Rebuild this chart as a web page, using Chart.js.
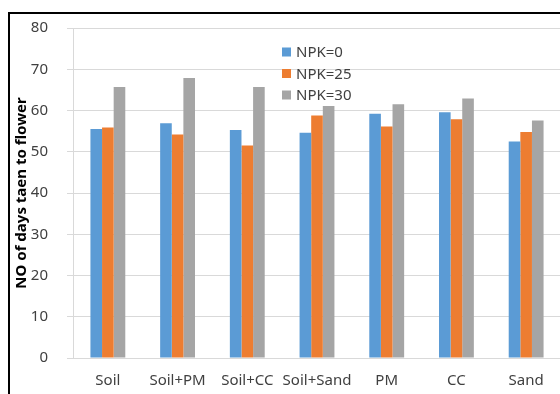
<!DOCTYPE html>
<html>
<head>
<meta charset="utf-8">
<script src="https://cdn.jsdelivr.net/npm/chart.js@4"></script>
<style>
  html, body { margin: 0; padding: 0; background: #fff; overflow: hidden; width: 560px; height: 394px; }
  #frame { position: absolute; left: 8px; top: 12px; width: 600px; height: 500px; border: 2px solid #000; }
  #wrap { position: absolute; left: 0; top: 0; width: 580px; height: 400px; }
</style>
</head>
<body>
<div id="frame"></div>
<div id="wrap"><canvas id="daysChart" width="580" height="400"></canvas></div>
<script>
/* chart data */
const mediums = ["Soil", "Soil+PM", "Soil+CC", "Soil+Sand", "PM", "CC", "Sand"];
const npk0 = [55.5, 56.9, 55.3, 54.6, 59.2, 59.6, 52.5];
const npk25 = [55.9, 54.2, 51.5, 58.8, 56.1, 57.9, 54.8];
const npk30 = [65.7, 67.9, 65.7, 61.1, 61.5, 62.9, 57.6];
const yTicks = [0, 10, 20, 30, 40, 50, 60, 70, 80];

const seriesNames = ["NPK=0", "NPK=25", "NPK=30"];
const seriesColors = ["#5B9BD5", "#ED7D31", "#A5A5A5"];

const fontFamily = "'Noto Sans', 'Open Sans', sans-serif";

/* legend drawn inside the plot */
const innerLegend = {
  id: "innerLegend",
  afterDraw(chart) {
    const ctx = chart.ctx;
    ctx.save();
    ctx.font = "15px " + fontFamily;
    ctx.textBaseline = "middle";
    chart.data.datasets.forEach((ds, i) => {
      const y = 52 + i * 21.5;
      ctx.fillStyle = ds.backgroundColor;
      ctx.fillRect(282, y - 4.5, 9, 9);
      ctx.fillStyle = "#404040";
      ctx.fillText(ds.label, 296, y + 1);
    });
    ctx.restore();
  }
};

const daysChart = new Chart(document.querySelector("#daysChart"), {
  type: "bar",
  data: {
    labels: mediums,
    datasets: [npk0, npk25, npk30].map((values, i) => ({
      label: seriesNames[i],
      data: values,
      backgroundColor: seriesColors[i],
      borderWidth: 0,
      categoryPercentage: 0.5,
      barPercentage: 1.0
    }))
  },
  options: {
    responsive: false,
    animation: false,
    layout: {
      padding: { left: 0, top: 28, right: 19, bottom: 12 }
    },
    plugins: {
      legend: { display: false },
      tooltip: { enabled: false }
    },
    scales: {
      x: {
        grid: { display: false, drawTicks: false },
        border: { display: true, color: "#D9D9D9", width: 1 },
        ticks: {
          color: "#404040",
          padding: 14,
          maxRotation: 0,
          autoSkip: false,
          font: { family: fontFamily, size: 15 }
        },
        afterFit(scale) { scale.height = 30; }
      },
      y: {
        min: 0,
        max: 80,
        afterBuildTicks(scale) {
          scale.ticks = yTicks.map(v => ({ value: v }));
        },
        grid: { color: "#D9D9D9", tickLength: 6, lineWidth: 1 },
        border: { display: true, color: "#D9D9D9", width: 1 },
        ticks: {
          color: "#404040",
          padding: 19,
          font: { family: fontFamily, size: 15 }
        },
        title: {
          display: true,
          text: "NO of days taen to flower",
          color: "#000",
          padding: { top: 13, bottom: 0 },
          font: { family: fontFamily, size: 15, weight: "bold" }
        },
        afterFit(scale) { scale.width = 73; }
      }
    }
  },
  plugins: [innerLegend]
});
</script>
</body>
</html>
